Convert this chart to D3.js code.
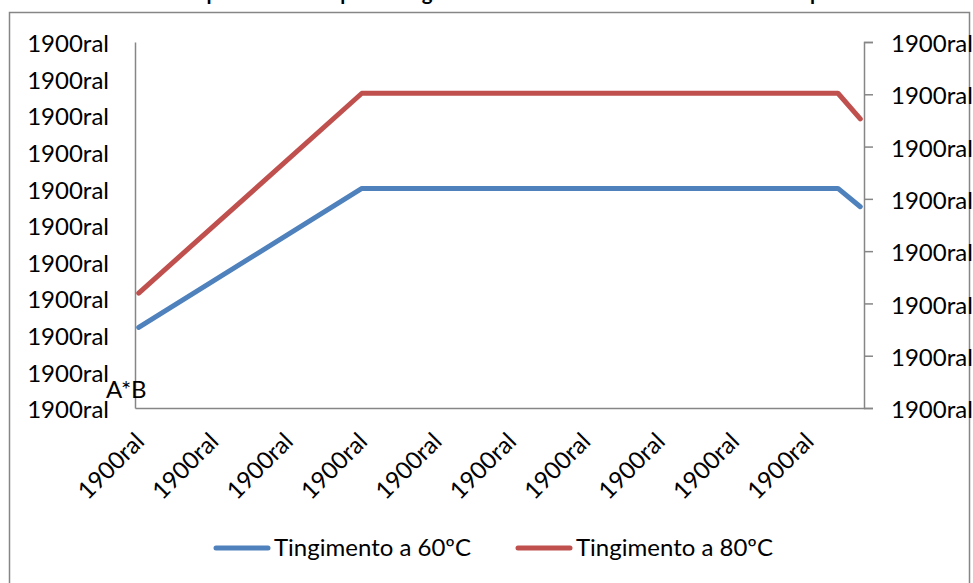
<!DOCTYPE html>
<html>
<head>
<meta charset="utf-8">
<script src="https://cdn.jsdelivr.net/npm/d3@7"></script>
<style>
  html, body { margin: 0; padding: 0; background: #fff; }
  svg { display: block; }
  text { font-family: Lato, "Open Sans", sans-serif; fill: #000; }
</style>
</head>
<body>
<svg id="chart" width="973" height="583"></svg>
<script>
// Chart title
const title = "Temperatura x tempo do tingimento a 60ºC e 80ºC durante todo o tempo";

// Category axis: tick positions (point index) and their labels
const xTicks = [0, 10, 20, 30, 40, 50, 60, 70, 80, 90];
const xTickLabels = ["1900ral", "1900ral", "1900ral", "1900ral", "1900ral",
                     "1900ral", "1900ral", "1900ral", "1900ral", "1900ral"];
const pointCount = 98;

// Primary value axis
const yTicks = [0, 10, 20, 30, 40, 50, 60, 70, 80, 90, 100];
const yTickLabels = ["1900ral", "1900ral", "1900ral", "1900ral", "1900ral", "1900ral",
                     "1900ral", "1900ral", "1900ral", "1900ral", "1900ral"];

// Secondary value axis
const y2Ticks = [0, 10, 20, 30, 40, 50, 60, 70];
const y2TickLabels = ["1900ral", "1900ral", "1900ral", "1900ral",
                      "1900ral", "1900ral", "1900ral", "1900ral"];

// Series (point index, temperature)
const seriesNames = ["Tingimento a 60ºC", "Tingimento a 80ºC"];
const series60 = [
  { x: 0, y: 22 }, { x: 30, y: 60 }, { x: 94, y: 60 }, { x: 97, y: 55 }
];
const series80 = [
  { x: 0, y: 31.4 }, { x: 30, y: 86 }, { x: 94, y: 86 }, { x: 97, y: 79 }
];
const seriesColors = ["#4F81BD", "#C0504D"];

const svg = d3.select("#chart");
const plot = { left: 135, right: 864, top: 42, bottom: 408 };
const axisColor = "#868686";
const labelSize = 24;

// Outer chart frame
svg.append("rect")
  .attr("x", 9.5).attr("y", 12.5)
  .attr("width", 960).attr("height", 620)
  .attr("fill", "none").attr("stroke", axisColor).attr("stroke-width", 1.5);

// Title (sits above the frame, only its lower part is on the page)
svg.append("text")
  .attr("x", 501).attr("y", 0)
  .attr("text-anchor", "middle")
  .style("font-weight", "bold").style("font-size", "20.5px")
  .text(title);

const x = d3.scaleLinear().domain([-0.5, pointCount - 0.5]).range([plot.left, plot.right]);
const y = d3.scaleLinear().domain([0, 100]).range([plot.bottom, plot.top]);
const y2 = d3.scaleLinear().domain([0, 70]).range([plot.bottom, plot.top]);

// Left axis (no tick marks)
const leftAxis = d3.axisLeft(y).tickValues(yTicks).tickSize(0).tickPadding(26)
  .tickFormat((d, i) => yTickLabels[i]);
const gL = svg.append("g").attr("transform", `translate(${plot.left},0)`).call(leftAxis);
gL.select(".domain").attr("stroke", axisColor).attr("stroke-width", 1.5);
gL.selectAll("text").style("font-size", labelSize + "px").style("font-family", "Lato")
  .attr("dy", "0.4em");

// Right axis with outward ticks
const rightAxis = d3.axisRight(y2).tickValues(y2Ticks).tickSize(9).tickPadding(18)
  .tickFormat((d, i) => y2TickLabels[i]);
const gR = svg.append("g").attr("transform", `translate(${plot.right},0)`).call(rightAxis);
gR.select(".domain").attr("stroke", axisColor).attr("stroke-width", 1.5);
gR.selectAll(".tick line").attr("stroke", axisColor).attr("stroke-width", 1.5);
gR.selectAll("text").style("font-size", labelSize + "px").style("font-family", "Lato")
  .attr("dy", "0.4em");

// Bottom axis line
const bottomAxis = d3.axisBottom(x).tickValues(xTicks).tickSize(0).tickFormat("");
const gB = svg.append("g").attr("transform", `translate(0,${plot.bottom})`).call(bottomAxis);
gB.select(".domain").attr("stroke", axisColor).attr("stroke-width", 1.5);

// Rotated category labels
svg.append("g").selectAll("text")
  .data(xTicks)
  .join("text")
  .attr("transform", d => `translate(${x(d) + 7},${plot.bottom + 35}) rotate(-45)`)
  .attr("text-anchor", "end")
  .style("font-size", labelSize + "px")
  .text((d, i) => xTickLabels[i]);

// Series lines
const line = d3.line().x(d => x(d.x)).y(d => y(d.y));
[series60, series80].forEach((s, i) => {
  svg.append("path")
    .datum(s)
    .attr("d", line)
    .attr("fill", "none")
    .attr("stroke", seriesColors[i])
    .attr("stroke-width", 5)
    .attr("stroke-linejoin", "round")
    .attr("stroke-linecap", "round");
});

// Axis-title text near the origin
svg.append("text")
  .attr("x", 106).attr("y", 398)
  .style("font-size", labelSize + "px")
  .text("A*B");

// Legend
const legendItems = [{ x: 214 }, { x: 516 }];
legendItems.forEach((it, i) => {
  svg.append("line")
    .attr("x1", it.x + 2).attr("x2", it.x + 54)
    .attr("y1", 548).attr("y2", 548)
    .attr("stroke", seriesColors[i]).attr("stroke-width", 5)
    .attr("stroke-linecap", "round");
  svg.append("text")
    .attr("x", it.x + 60).attr("y", 556)
    .style("font-size", labelSize + "px")
    .text(seriesNames[i]);
});
</script>
</body>
</html>
